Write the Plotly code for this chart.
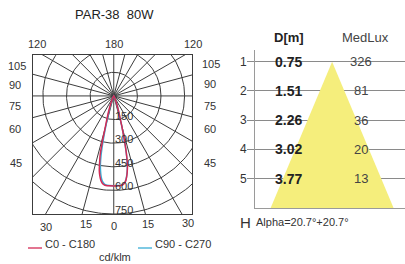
import numpy as np
import plotly.graph_objects as go

# ---------------- data ----------------
gamma_deg = [0, 3, 5, 6, 7, 8, 9, 10, 11, 12, 13, 14, 15, 16, 17, 18, 19, 20, 22, 25, 30, 40, 90]
c180 = [572, 572, 571, 569, 564, 553, 536, 512, 482, 432, 385, 300, 215, 170, 138, 112, 90, 70, 42, 18, 5, 0, 0]
c0 = [572, 572, 570, 566, 558, 545, 522, 492, 455, 400, 330, 255, 195, 145, 115, 92, 75, 60, 36, 15, 4, 0, 0]
c270 = [570, 570, 568, 563, 554, 540, 516, 484, 445, 390, 318, 245, 185, 138, 108, 86, 70, 56, 33, 14, 4, 0, 0]
c90 = [570, 570, 568, 564, 556, 542, 519, 489, 451, 396, 326, 251, 191, 142, 112, 90, 73, 58, 35, 15, 4, 0, 0]

ring_values = [150, 300, 450, 600, 750]
spoke_step = 15

distances = ["0.75", "1.51", "2.26", "3.02", "3.77"]
medlux = ["326", "81", "36", "20", "13"]
rows = [1, 2, 3, 4, 5]
alpha_deg = 20.7

RED = "#d42a55"
CYAN = "#3aaed6"
GRID = "#3c3c3c"
W, H = 405, 264


def px(x):
    return x / W


def py(y):
    return 1 - y / H


def half(vals, side):
    g = np.radians(np.array(gamma_deg, dtype=float))
    r = np.array(vals, dtype=float)
    return side * r * np.sin(g), -r * np.cos(g)


def curve(left_vals, right_vals):
    xl, yl = half(left_vals, -1)
    xr, yr = half(right_vals, 1)
    return np.concatenate([xl[::-1], xr]), np.concatenate([yl[::-1], yr])


fig = go.Figure()

# grid: rings
gx, gy = [], []
t = np.linspace(0, 2 * np.pi, 241)
for rv in ring_values:
    gx += list(rv * np.cos(t)) + [None]
    gy += list(rv * np.sin(t)) + [None]
# spokes
for a in range(0, 360, spoke_step):
    ar = np.radians(a)
    gx += [0, 3000 * np.sin(ar), None]
    gy += [0, -3000 * np.cos(ar), None]
fig.add_trace(go.Scatter(x=gx, y=gy, mode="lines", line=dict(color=GRID, width=1),
                         hoverinfo="skip", showlegend=False, xaxis="x", yaxis="y"))

# curves
bx, by = curve(c270, c90)
fig.add_trace(go.Scatter(x=bx, y=by, mode="lines", line=dict(color=CYAN, width=1.5, shape="spline", smoothing=0.6),
                         showlegend=False, xaxis="x", yaxis="y"))
rx, ry = curve(c180, c0)
fig.add_trace(go.Scatter(x=rx, y=ry, mode="lines", line=dict(color=RED, width=1.5, shape="spline", smoothing=0.6),
                         showlegend=False, xaxis="x", yaxis="y"))

# cone (right panel)
y_apex = rows[0]
y_base = 6.0
hw = (y_base - y_apex) * np.tan(np.radians(alpha_deg))
fig.add_trace(go.Scatter(x=[-hw, 0, hw], y=[y_base, y_apex, y_base], mode="lines",
                         fill="toself", fillcolor="#f5ee7c", line=dict(width=0, color="#f5ee7c"),
                         showlegend=False, hoverinfo="skip", xaxis="x2", yaxis="y2"))

ann = []
tick_font = dict(family="Liberation Sans, Arial, sans-serif", size=11, color="#333")

# ring labels
for rv in ring_values:
    ann.append(dict(x=0, y=-rv, xref="x", yref="y", text=str(rv), showarrow=False,
                    xanchor="left", yanchor="middle", yshift=4, xshift=-1, font=tick_font))

# angle labels around the box (pixel positions)
angle_labels = [
    ("120", 37, 44), ("180", 114, 44), ("120", 193, 44),
    ("105", 17, 66), ("90", 15, 85), ("75", 15, 106), ("60", 15, 129), ("45", 16, 163),
    ("105", 211, 64), ("90", 210, 84), ("75", 210, 106), ("60", 210, 129), ("45", 210, 163),
    ("30", 46, 227), ("15", 86, 224), ("0", 114, 226), ("15", 148, 224), ("30", 188, 223),
]
for txt, xx, yy in angle_labels:
    ann.append(dict(x=px(xx), y=py(yy), xref="paper", yref="paper", text=txt, showarrow=False,
                    xanchor="center", yanchor="middle", font=tick_font))

# title
ann.append(dict(x=px(114), y=py(15), xref="paper", yref="paper", text="PAR-38  80W", showarrow=False,
                xanchor="center", yanchor="middle",
                font=dict(family="Liberation Sans Narrow, Arial Narrow, sans-serif", size=13, color="#222")))

# legend texts
ann.append(dict(x=px(43), y=py(244), xref="paper", yref="paper", text="C0 - C180", showarrow=False,
                xanchor="left", yanchor="middle", font=tick_font))
ann.append(dict(x=px(153), y=py(244), xref="paper", yref="paper", text="C90 - C270", showarrow=False,
                xanchor="left", yanchor="middle", font=tick_font))
ann.append(dict(x=px(115), y=py(257), xref="paper", yref="paper", text="cd/klm", showarrow=False,
                xanchor="center", yanchor="middle",
                font=dict(family="Liberation Sans, Arial, sans-serif", size=11, color="#333")))

# right panel headers
ann.append(dict(x=px(289), y=py(38), xref="paper", yref="paper", text="<b>D[m]</b>", showarrow=False,
                xanchor="center", yanchor="middle",
                font=dict(family="Liberation Sans, Arial, sans-serif", size=13, color="#222")))
ann.append(dict(x=px(365), y=py(38), xref="paper", yref="paper", text="MedLux", showarrow=False,
                xanchor="center", yanchor="middle",
                font=dict(family="Liberation Sans, Arial, sans-serif", size=13, color="#444")))
for r, d, lx in zip(rows, distances, medlux):
    ann.append(dict(x=px(243), y=r, xref="paper", yref="y2", text=str(r), showarrow=False,
                    xanchor="center", yanchor="middle",
                    font=dict(family="Liberation Sans, Arial, sans-serif", size=12, color="#333")))
    ann.append(dict(x=px(288), y=r, xref="paper", yref="y2", text="<b>" + d + "</b>", showarrow=False,
                    xanchor="center", yanchor="middle",
                    font=dict(family="Liberation Sans, Arial, sans-serif", size=14, color="#222")))
    ann.append(dict(x=px(361), y=r, xref="paper", yref="y2", text=lx, showarrow=False,
                    xanchor="center", yanchor="middle",
                    font=dict(family="Liberation Sans, Arial, sans-serif", size=13, color="#444")))

ann.append(dict(x=px(238), y=py(222), xref="paper", yref="paper", text="H", showarrow=False,
                xanchor="left", yanchor="middle",
                font=dict(family="Liberation Sans, Arial, sans-serif", size=15, color="#333")))
ann.append(dict(x=px(254), y=py(222), xref="paper", yref="paper",
                text="Alpha=%.1f°+%.1f°" % (alpha_deg, alpha_deg), showarrow=False,
                xanchor="left", yanchor="middle",
                font=dict(family="Liberation Sans, Arial, sans-serif", size=11, color="#333")))

shapes = [
    dict(type="line", xref="paper", yref="paper", x0=px(28), x1=px(42), y0=py(248), y1=py(248),
         line=dict(color=RED, width=1.3)),
    dict(type="line", xref="paper", yref="paper", x0=px(138), x1=px(152), y0=py(248), y1=py(248),
         line=dict(color=CYAN, width=1.3)),
]

fig.update_layout(
    width=W, height=H, margin=dict(l=0, r=0, t=0, b=0),
    paper_bgcolor="white", plot_bgcolor="white",
    showlegend=False,
    xaxis=dict(domain=[px(33), px(192)], range=[-513, 497], showgrid=False, zeroline=False,
               showticklabels=False, ticks="", showline=True, mirror=True, linecolor=GRID, linewidth=1,
               fixedrange=True),
    yaxis=dict(domain=[py(214), py(55)], range=[-750, 260], showgrid=False, zeroline=False,
               showticklabels=False, ticks="", showline=True, mirror=True, linecolor=GRID, linewidth=1,
               fixedrange=True),
    xaxis2=dict(domain=[px(255), 1.0], range=[-2.37, 2.24], anchor="y2", showgrid=False, zeroline=False,
                showticklabels=False, ticks="", showline=True, linecolor="#9a9a9a", linewidth=1),
    yaxis2=dict(domain=[py(208), py(50)], range=[y_base, 0.6], anchor="x2", showgrid=True,
                gridcolor="#8a8a8a", gridwidth=1, zeroline=False, tickvals=rows,
                showticklabels=False, ticks="outside", ticklen=7, tickcolor="#8a8a8a",
                showline=True, linecolor="#9a9a9a", linewidth=1),
    annotations=ann, shapes=shapes,
)

fig.write_html("out.html", config={"displayModeBar": False},
               post_script="document.body.style.margin='0px';document.body.style.overflow='hidden';")
